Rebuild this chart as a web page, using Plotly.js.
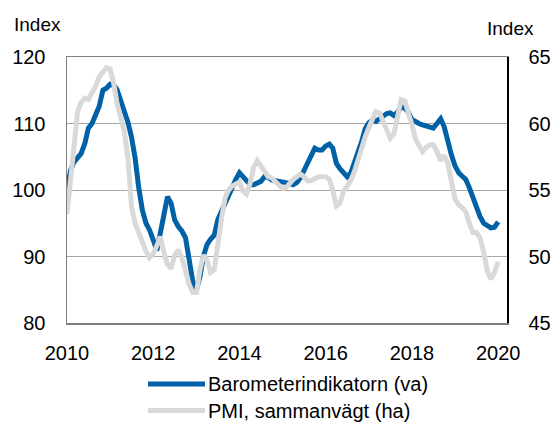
<!DOCTYPE html>
<html>
<head>
<meta charset="utf-8">
<script src="https://cdn.plot.ly/plotly-3.0.1.min.js"></script>
<style>
html,body{margin:0;padding:0;background:#fff;}
#chart{width:553px;height:423px;}
</style>
</head>
<body>
<div id="chart"></div>
<script>
// Monthly series, Jan 2010 .. Jan 2020
const startYear = 2010;
const barometer = [
 100.3,103,104.2,105,105.5,107,109.3,110,111.3,112.6,115,115.3,
 115.9,115.8,115.1,113.6,111.8,110.2,108,104.8,100.3,97,95,94,
 92.5,90.9,93.5,96.5,99,98,95.5,94.5,93.8,92.8,89.8,86.3,
 85,87,90,91.8,92.6,93.2,95.5,96.8,98.1,99.4,100.5,101.6,
 102.6,102,101.5,100.8,100.8,101,101.3,102,101.9,101.5,101.4,101.3,
 101.3,101.1,101,100.8,101.1,101.8,103,104.1,105.4,106.3,106,106,
 106.6,106.9,106.3,104,103.2,102.5,102,102.6,104,105.7,107.3,109.2,
 110.1,110.5,110.3,110.7,111.3,111.5,111.6,111.2,111.7,112.5,112.3,111.7,
 110.6,110.2,110,109.8,109.6,109.4,109.3,110,110.7,109.5,107.2,105.3,
 103.6,102.6,102.1,101.6,100.4,98.8,97.3,96,95,94.7,94.3,94.4,
 95.2
];
const pmi = [
 53.2,55.8,58.8,60.9,61.6,61.9,61.8,62.3,62.8,63.5,63.8,64.2,
 64.1,63,61.5,60.5,59.4,57.4,53.8,52.5,51.7,51,50.4,49.9,
 50.2,50.8,51.5,50.3,49.4,49.1,50.1,50.5,49.9,48.9,47.9,47.3,
 47.3,49,50.1,49.7,48.8,49,51,52.8,54.4,55,55.3,55.5,
 55.6,54.9,54.7,55.5,56.7,57.2,56.8,56.3,56,55.9,55.6,55.3,
 55.1,55.2,55.5,55.8,56,56.2,56,55.7,55.7,55.9,56,56,
 56,55.8,55,53.8,54,54.9,55.3,55.7,56.4,57.3,58,59,
 59.7,60.4,60.9,60.8,60.2,59.7,58.9,59.2,60.6,61.8,61.7,60.9,
 59.9,58.8,58.3,57.9,58.2,58.4,58.4,57.9,57.2,57.6,57,55.6,
 54.3,53.9,53.7,53.4,52.5,51.8,51.8,51.4,50.3,48.9,48.3,48.8,
 49.6
];
const seriesNames = ['Barometerindikatorn (va)', 'PMI, sammanvägt (ha)'];
const tickLabels = ['2010','2012','2014','2016','2018','2020'];
const leftTicks = [80, 90, 100, 110, 120];
const rightTicks = [45, 50, 55, 60, 65];
const axisTitle = 'Index';

const months = barometer.map((_, i) => {
  const y = startYear + Math.floor(i / 12);
  const m = (i % 12) + 1;
  return y + '-' + (m < 10 ? '0' + m : m) + '-01';
});
const tickVals = tickLabels.map(t => t + '-01-01');

const BLUE = '#0061a6';
const GREY = '#d9d9d9';
const FONT = 'Liberation Sans, Arial, Helvetica, sans-serif';

// layout geometry (pixels)
const W = 553, H = 423, L = 67, R = 46, T = 57, B = 100;
const pw = W - L - R, ph = H - T - B;
const px = x => (x - L) / pw;
const py = y => (H - B - y) / ph;

const traces = [
  {x: months, y: barometer, name: seriesNames[0], type: 'scatter', mode: 'lines',
   line: {color: BLUE, width: 5}, yaxis: 'y', showlegend: false},
  {x: months, y: pmi, name: seriesNames[1], type: 'scatter', mode: 'lines',
   line: {color: GREY, width: 5}, yaxis: 'y2', showlegend: false}
];

const shapes = [
  {type: 'line', xref: 'paper', yref: 'paper', x0: px(148), x1: px(205), y0: py(384), y1: py(384),
   line: {color: BLUE, width: 5}},
  {type: 'line', xref: 'paper', yref: 'paper', x0: px(148), x1: px(205), y0: py(410.5), y1: py(410.5),
   line: {color: GREY, width: 5}}
];

const annotations = [
  {text: seriesNames[0], xref: 'paper', yref: 'paper', x: px(206), y: py(384), xanchor: 'left', yanchor: 'middle',
   showarrow: false, font: {family: FONT, size: 20, color: '#000'}},
  {text: seriesNames[1], xref: 'paper', yref: 'paper', x: px(206), y: py(410.5), xanchor: 'left', yanchor: 'middle',
   showarrow: false, font: {family: FONT, size: 20, color: '#000'}},
  {text: axisTitle, xref: 'paper', yref: 'paper', x: px(12), y: py(24.5), xanchor: 'left', yanchor: 'middle',
   showarrow: false, font: {family: FONT, size: 19, color: '#000'}},
  {text: axisTitle, xref: 'paper', yref: 'paper', x: px(485), y: py(28.5), xanchor: 'left', yanchor: 'middle',
   showarrow: false, font: {family: FONT, size: 19, color: '#000'}}
];

const layout = {
  width: W, height: H,
  margin: {l: L, r: R, t: T, b: B, pad: 0},
  paper_bgcolor: '#fff', plot_bgcolor: '#fff',
  font: {family: FONT, size: 20, color: '#000'},
  showlegend: false,
  xaxis: {
    type: 'date', range: ['2010-01-01', '2020-03-16'],
    tickvals: tickVals, ticktext: tickLabels,
    showgrid: false, zeroline: false,
    showline: true, linecolor: '#808080', linewidth: 1.5, mirror: true,
    ticks: '', ticklabelstandoff: 11,
    tickfont: {family: FONT, size: 20, color: '#000'}
  },
  yaxis: {
    range: [80, 120], tickvals: leftTicks,
    showgrid: true, gridcolor: '#a6a6a6', gridwidth: 1, zeroline: false,
    showline: true, linecolor: '#808080', linewidth: 1.5,
    ticks: '', ticklabelstandoff: 16,
    tickfont: {family: FONT, size: 20, color: '#000'}
  },
  yaxis2: {
    range: [45, 65], tickvals: rightTicks, overlaying: 'y', side: 'right',
    showgrid: false, zeroline: false,
    showline: true, linecolor: '#000', linewidth: 1.5,
    ticks: '', ticklabelstandoff: 16,
    tickfont: {family: FONT, size: 20, color: '#000'}
  },
  shapes: shapes,
  annotations: annotations
};

Plotly.newPlot('chart', traces, layout, {displayModeBar: false, staticPlot: true});
</script>
</body>
</html>
